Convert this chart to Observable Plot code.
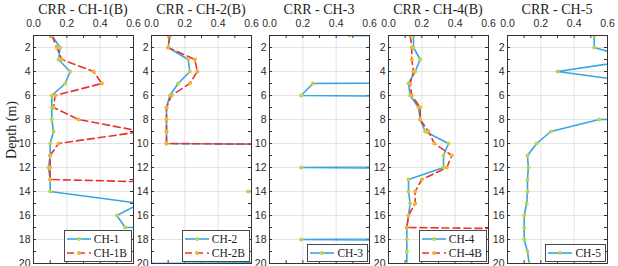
<!DOCTYPE html>
<html>
<head>
<meta charset="utf-8">
<script src="https://cdn.jsdelivr.net/npm/d3@7"></script>
<script src="https://cdn.jsdelivr.net/npm/@observablehq/plot@0.6"></script>
<style>
  html, body { margin: 0; padding: 0; background: #fff; }
  #wrap { position: relative; width: 618px; height: 266px; overflow: hidden; background: #fff; }
  .panel { position: absolute; top: 0; }
  .title { position: absolute; top: 2px; font-family: "Liberation Serif", "Times New Roman", Times, serif; font-size: 14px; color: #222; text-align: center; white-space: nowrap; }
  .ylab { position: absolute; font-family: "Liberation Serif", "Times New Roman", Times, serif; font-size: 14px; color: #222; white-space: nowrap; transform: translate(-50%, -50%) rotate(-90deg); }
  .legend { position: absolute; background: #fff; border: 1px solid #4a4a4a; padding: 1px 4px 1px 1px; font-family: "Liberation Serif", "Times New Roman", Times, serif; font-size: 11.5px; color: #222; }
  .legend .row { display: flex; align-items: center; height: 14px; white-space: nowrap; }
  .legend svg { margin-right: 2px; }
</style>
</head>
<body>
<div id="wrap"></div>
<script>
// ---- data (depth in m, CRR values; values > 0.6 run off the axis) ----
const depth = [1, 2, 3, 4, 5, 6, 7, 8, 9, 10, 11, 12, 13, 14, 15, 16, 17, 18, 19, 20];
const ch1  = [0.11, 0.16, 0.15, 0.22, 0.19, 0.11, 0.11, 0.11, 0.12, 0.10, 0.10, 0.09, 0.10, 0.10, 0.64, 0.50, 0.55, 10, 10, 10];
const ch1b = [0.11, 0.14, 0.17, 0.36, 0.41, 0.13, 0.12, 0.27, 0.65, 0.15, 0.10, 0.10, 0.10, 3, 10, 10, 10, 10, 10, 10];
const ch2  = [0.11, 0.10, 0.22, 0.23, 0.16, 0.11, 0.09, 0.09, 0.09, 0.09, 10, 10, 10, 0.58, 10, 10, 10, 10, 10, 0.0];
const ch2b = [0.11, 0.10, 0.26, 0.275, 0.23, 0.12, 0.09, 0.09, 0.09, 0.09, 10, 10, 10, 10, 10, 10, 10, 10, 10, 10];
const ch3  = [0.48, 10, 10, 10, 0.26, 0.19, 10, 10, 10, 10, 10, 0.19, 10, 10, 10, 10, 10, 0.19, 10, 10];
const ch4  = [0.15, 0.15, 0.19, 0.16, 0.12, 0.13, 0.18, 0.19, 0.22, 0.36, 0.33, 0.33, 0.12, 0.12, 0.13, 0.12, 0.11, 0.11, 0.11, 0.11];
const ch4b = [0.13, 0.14, 0.14, 0.15, 0.13, 0.14, 0.19, 0.19, 0.24, 0.275, 0.38, 0.35, 0.20, 0.16, 0.16, 0.12, 0.11, 6, 10, 10];
const ch5  = [0.52, 0.52, 0.78, 0.30, 0.83, 10, 10, 0.55, 0.26, 0.175, 0.12, 0.125, 0.12, 0.12, 0.115, 0.10, 0.10, 0.10, 0.12, 0.13];

const titles = ["CRR - CH-1(B)", "CRR - CH-2(B)", "CRR - CH-3", "CRR - CH-4(B)", "CRR - CH-5"];
const xTicks = [0, 0.2, 0.4, 0.6];
const xMinor = [0.1, 0.2, 0.3, 0.4, 0.5];
const yTicks = [2, 4, 6, 8, 10, 12, 14, 16, 18, 20];
const yMinor = [2, 3, 4, 5, 6, 7, 8, 9, 10, 11, 12, 13, 14, 15, 16, 17, 18, 19];

// ---- styles ----
const BLUE = "#36a6e2", RED = "#e8342c", MK_B = "#c3d24a", MK_R = "#f4b233";
const solid = {color: BLUE, marker: MK_B, dash: null};
const dashed = {color: RED, marker: MK_R, dash: "7,4"};

const panels = [
  {series: [{name: "CH-1", values: ch1, ...solid}, {name: "CH-1B", values: ch1b, ...dashed}]},
  {series: [{name: "CH-2", values: ch2, ...solid}, {name: "CH-2B", values: ch2b, ...dashed}]},
  {series: [{name: "CH-3", values: ch3, ...solid}]},
  {series: [{name: "CH-4", values: ch4, ...solid}, {name: "CH-4B", values: ch4b, ...dashed}]},
  {series: [{name: "CH-5", values: ch5, ...solid}]}
];

const lefts = [33, 151, 269, 388, 507];
const PW = 100, ML = 18, MR = 10, MT = 35, MB = 3, H = 266;
const wrap = document.getElementById("wrap");

panels.forEach((p, k) => {
  const tables = p.series.map(s => depth.map((d, i) => ({d, v: s.values[i]})));
  const marks = [
    Plot.gridX([0.2, 0.4], {stroke: "#e3e3e3", strokeOpacity: 1}),
    Plot.gridY(yTicks.slice(0, -1), {stroke: "#e3e3e3", strokeOpacity: 1}),
    Plot.ruleX(xMinor, {y1: 1, y2: 1.25, stroke: "#333"}),
    Plot.ruleX(xMinor, {y1: 20, y2: 19.75, stroke: "#333"}),
    Plot.ruleY(yMinor, {x1: 0, x2: 0.018, stroke: "#333"}),
    Plot.ruleY(yMinor, {x1: 0.6, x2: 0.582, stroke: "#333"}),
    ...p.series.map((s, j) => Plot.line(tables[j], {x: "v", y: "d", stroke: s.color, strokeWidth: 1.6, strokeDasharray: s.dash, clip: true})),
    ...p.series.map((s, j) => Plot.dot(tables[j], {x: "v", y: "d", r: 2, fill: s.marker, stroke: "none", clip: true})),
    Plot.frame({stroke: "#333", strokeWidth: 1}),
    Plot.axisX(xTicks, {anchor: "top", tickFormat: d3.format(".1f"), tickSize: 0, tickPadding: 9, fontSize: 10.5}),
    Plot.axisY(yTicks, {anchor: "left", tickSize: 0, tickPadding: 3, fontSize: 10.5})
  ];
  const svg = Plot.plot({
    width: PW + ML + MR, height: H,
    marginLeft: ML, marginRight: MR, marginTop: MT, marginBottom: MB,
    x: {domain: [0, 0.6], label: null},
    y: {domain: [1, 20], reverse: true, label: null},
    style: {fontFamily: '"Liberation Sans", Arial, sans-serif', color: "#2b2b2b", background: "transparent", overflow: "visible"},
    marks
  });
  const holder = document.createElement("div");
  holder.className = "panel";
  holder.style.left = (lefts[k] - ML) + "px";
  holder.appendChild(svg);
  wrap.appendChild(holder);

  const t = document.createElement("div");
  t.className = "title";
  t.style.left = lefts[k] + "px";
  t.style.width = PW + "px";
  t.textContent = titles[k];
  wrap.appendChild(t);

  // legend
  const lg = document.createElement("div");
  lg.className = "legend";
  lg.style.right = (618 - (lefts[k] + PW) + 1) + "px";
  lg.style.bottom = (MB + 1) + "px";
  p.series.forEach(s => {
    const row = document.createElement("div");
    row.className = "row";
    row.innerHTML = `<svg width="26" height="10"><line x1="1" y1="5" x2="25" y2="5" stroke="${s.color}" stroke-width="1.6" ${s.dash ? `stroke-dasharray="${s.dash}"` : ""}/><circle cx="13" cy="5" r="2" fill="${s.marker}"/></svg><span>${s.name}</span>`;
    lg.appendChild(row);
  });
  wrap.appendChild(lg);
});

const yl = document.createElement("div");
yl.className = "ylab";
yl.style.left = "12px";
yl.style.top = "130px";
yl.textContent = "Depth (m)";
wrap.appendChild(yl);
</script>
</body>
</html>
